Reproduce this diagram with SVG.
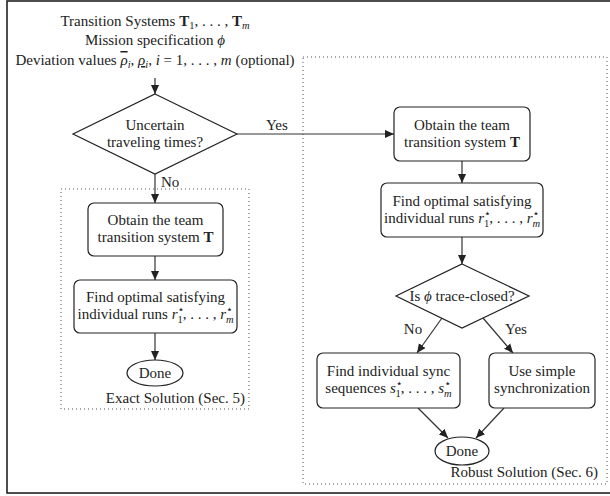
<svg xmlns="http://www.w3.org/2000/svg" width="610" height="496" viewBox="0 0 610 496">
<defs>
<marker id="ah" viewBox="0 0 10 10" refX="10" refY="5" markerWidth="9" markerHeight="9" markerUnits="userSpaceOnUse" orient="auto">
<path d="M0,0.5 L10,5 L0,9.5 Z" fill="#222"/>
</marker>
<style>
text{font-family:"Liberation Serif","DejaVu Serif",serif;font-size:15px;fill:#222}
.c{text-anchor:middle}
.r{text-anchor:end}
.i{font-style:italic}
.b{font-weight:bold}
.s{font-size:10.5px}
.st{font-size:11px;font-family:"DejaVu Sans",sans-serif}
.box{fill:#fff;stroke:#222;stroke-width:1.2}
.dot{fill:none;stroke:#555;stroke-width:1;stroke-dasharray:1 3}
.ln{fill:none;stroke:#333;stroke-width:1.2;marker-end:url(#ah)}
</style>
</defs>
<rect x="7" y="1" width="605" height="492" fill="#fff" stroke="#222" stroke-width="1.6"/>
<g id="regions">
<rect class="dot" x="61" y="189" width="188" height="220"/>
<text class="r" x="245" y="403">Exact Solution (Sec. 5)</text>
<rect class="dot" x="303" y="57" width="304" height="427"/>
<text class="r" x="598" y="477">Robust Solution (Sec. 6)</text>
</g>
<g id="connectors">
<line class="ln" x1="155" y1="78" x2="155" y2="94"/>
<line class="ln" x1="237" y1="134" x2="394" y2="134"/>
<line class="ln" x1="155" y1="174" x2="155" y2="203"/>
<line class="ln" x1="155" y1="256" x2="155" y2="280"/>
<line class="ln" x1="155" y1="333" x2="155" y2="360"/>
<line class="ln" x1="462" y1="161" x2="462" y2="183"/>
<line class="ln" x1="462" y1="237" x2="462" y2="264"/>
<line class="ln" x1="442" y1="318" x2="417" y2="353"/>
<line class="ln" x1="483" y1="318" x2="513" y2="353"/>
<line class="ln" x1="418" y1="408" x2="448" y2="438"/>
<line class="ln" x1="504" y1="408" x2="476" y2="438"/>
<text x="266" y="130">Yes</text>
<text x="161" y="187">No</text>
<text class="c" x="413" y="334">No</text>
<text class="c" x="516" y="334">Yes</text>
</g>
<g id="inputs">
<text class="c" x="155" y="26">Transition Systems <tspan class="b">T</tspan><tspan class="s" dy="3">1</tspan><tspan dy="-3">, . . . , </tspan><tspan class="b">T</tspan><tspan class="s i" dy="3">m</tspan></text>
<text class="c" x="155" y="45">Mission specification <tspan class="i">ϕ</tspan></text>
<text class="c" x="155" y="65">Deviation values <tspan class="i" style="text-decoration:overline">ρ</tspan><tspan class="s i" dy="3">i</tspan><tspan dy="-3">, </tspan><tspan class="i" style="text-decoration:underline">ρ</tspan><tspan class="s i" dy="3">i</tspan><tspan dy="-3">, </tspan><tspan class="i">i</tspan> = 1, . . . , <tspan class="i">m</tspan> (optional)</text>
</g>
<g id="uncertain">
<polygon class="box" points="155,94 237,134 155,174 73,134"/>
<text class="c" x="155" y="130">Uncertain</text>
<text class="c" x="155" y="147">traveling times?</text>
</g>
<g id="exact-obtain">
<rect class="box" x="88" y="203" width="135" height="53" rx="6"/>
<text class="c" x="155.5" y="225">Obtain the team</text>
<text class="c" x="155.5" y="242">transition system <tspan class="b">T</tspan></text>
</g>
<g id="exact-find">
<rect class="box" x="74" y="280" width="163" height="53" rx="6"/>
<text class="c" x="155.5" y="302">Find optimal satisfying</text>
<text class="c" x="155.5" y="319">individual runs <tspan class="i">r</tspan><tspan class="st" dy="-6">⋆</tspan><tspan class="s" dx="-7" dy="10">1</tspan><tspan dy="-4">, . . . , </tspan><tspan class="i">r</tspan><tspan class="st" dy="-6">⋆</tspan><tspan class="s i" dx="-7" dy="10">m</tspan></text>
</g>
<g id="exact-done">
<ellipse class="box" cx="155" cy="373" rx="28" ry="13"/>
<text class="c" x="155" y="378">Done</text>
</g>
<g id="robust-obtain">
<rect class="box" x="394" y="107" width="136" height="54" rx="6"/>
<text class="c" x="462" y="130">Obtain the team</text>
<text class="c" x="462" y="147">transition system <tspan class="b">T</tspan></text>
</g>
<g id="robust-find">
<rect class="box" x="381" y="183" width="162" height="54" rx="6"/>
<text class="c" x="462" y="206">Find optimal satisfying</text>
<text class="c" x="462" y="223">individual runs <tspan class="i">r</tspan><tspan class="st" dy="-6">⋆</tspan><tspan class="s" dx="-7" dy="10">1</tspan><tspan dy="-4">, . . . , </tspan><tspan class="i">r</tspan><tspan class="st" dy="-6">⋆</tspan><tspan class="s i" dx="-7" dy="10">m</tspan></text>
</g>
<g id="trace-closed">
<polygon class="box" points="462,264 529,296 462,328 396,296"/>
<text class="c" x="462" y="301">Is <tspan class="i">ϕ</tspan> trace-closed?</text>
</g>
<g id="sync-seq">
<rect class="box" x="317" y="353" width="143" height="55" rx="6"/>
<text class="c" x="388.5" y="376">Find individual sync</text>
<text class="c" x="388.5" y="393">sequences <tspan class="i">s</tspan><tspan class="st" dy="-6">⋆</tspan><tspan class="s" dx="-7" dy="10">1</tspan><tspan dy="-4">, . . . , </tspan><tspan class="i">s</tspan><tspan class="st" dy="-6">⋆</tspan><tspan class="s i" dx="-7" dy="10">m</tspan></text>
</g>
<g id="simple-sync">
<rect class="box" x="489" y="353" width="106" height="55" rx="6"/>
<text class="c" x="542" y="376">Use simple</text>
<text class="c" x="542" y="393">synchronization</text>
</g>
<g id="robust-done">
<ellipse class="box" cx="462" cy="451" rx="27" ry="14"/>
<text class="c" x="462" y="456">Done</text>
</g>
</svg>
